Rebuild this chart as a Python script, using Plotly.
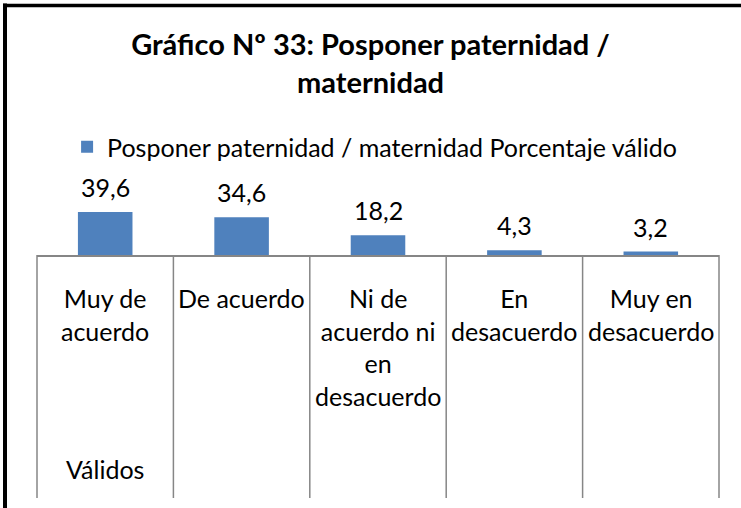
import plotly.graph_objects as go

categories = ["Muy de acuerdo", "De acuerdo", "Ni de acuerdo ni en desacuerdo",
              "En desacuerdo", "Muy en desacuerdo"]
category_labels = ["Muy de<br>acuerdo", "De acuerdo", "Ni de<br>acuerdo ni<br>en<br>desacuerdo",
                   "En<br>desacuerdo", "Muy en<br>desacuerdo"]
group_label = "Válidos"
values = [39.6, 34.6, 18.2, 4.3, 3.2]
value_labels = ["39,6", "34,6", "18,2", "4,3", "3,2"]
series_name = "Posponer paternidad / maternidad Porcentaje válido"
title = "Gráfico Nº 33: Posponer paternidad /<br>maternidad"

W, H = 741, 508
L, R, T, B = 37, 22, 206, 253
PW, PH = W - L - R, H - T - B
FONT = "Lato"
BLUE = "#4F81BD"
GRID = "#868686"


def px_x(px):
    return (px - L) / PW


def px_y(py):
    return (H - B - py) / PH


fig = go.Figure()
fig.add_trace(go.Bar(
    x=list(range(len(categories))), y=values, name=series_name,
    marker=dict(color=BLUE, line=dict(width=0)), width=0.4,
    hovertext=categories, showlegend=True,
))

annotations = []
for i, (v, lab) in enumerate(zip(values, value_labels)):
    annotations.append(dict(x=i, y=v, xref="x", yref="y", text=lab, showarrow=False,
                            yanchor="bottom", yshift=8, font=dict(family=FONT, size=25, color="#000")))
for i, lab in enumerate(category_labels):
    annotations.append(dict(x=i, y=px_y(281), xref="x", yref="paper", text=lab, showarrow=False,
                            yanchor="top", font=dict(family=FONT, size=25, color="#000")))
annotations.append(dict(x=0, y=px_y(469), xref="x", yref="paper", text=group_label, showarrow=False,
                        yanchor="middle", font=dict(family=FONT, size=25, color="#000")))

shapes = []
n = len(categories)
for i in range(n + 1):
    shapes.append(dict(type="line", xref="paper", yref="paper", x0=i / n, x1=i / n,
                       y0=0, y1=px_y(498), line=dict(color=GRID, width=1.5)))
# chart border (left and top visible)
shapes.append(dict(type="line", xref="paper", yref="paper", x0=px_x(5), x1=px_x(5),
                   y0=px_y(3.5), y1=px_y(H + 5), line=dict(color="#000", width=4)))
shapes.append(dict(type="line", xref="paper", yref="paper", x0=px_x(3), x1=px_x(W + 5),
                   y0=px_y(5.5), y1=px_y(5.5), line=dict(color="#000", width=3.5)))

fig.update_layout(
    width=W, height=H,
    margin=dict(l=L, r=R, t=T, b=B),
    paper_bgcolor="white", plot_bgcolor="white",
    title=dict(text=title, x=0.5, xref="container", xanchor="center",
               y=1 - 55 / H, yref="container", yanchor="top",
               font=dict(family=FONT, size=29, color="#000", weight="bold")),
    legend=dict(orientation="h", x=0.495, xanchor="center", y=1 - 147 / H, yref="container",
                yanchor="middle", font=dict(family=FONT, size=25, color="#000"),
                itemclick=False),
    xaxis=dict(range=[-0.5, n - 0.5], showticklabels=False, ticks="", showgrid=False,
               showline=True, linecolor=GRID, linewidth=1.5, zeroline=False, fixedrange=True),
    yaxis=dict(range=[0, 45], visible=False, showgrid=False, zeroline=False, fixedrange=True),
    annotations=annotations, shapes=shapes,
    font=dict(family=FONT),
)

fig.write_html("out.html", config={"displayModeBar": False},
               post_script="document.body.style.margin='0';")
